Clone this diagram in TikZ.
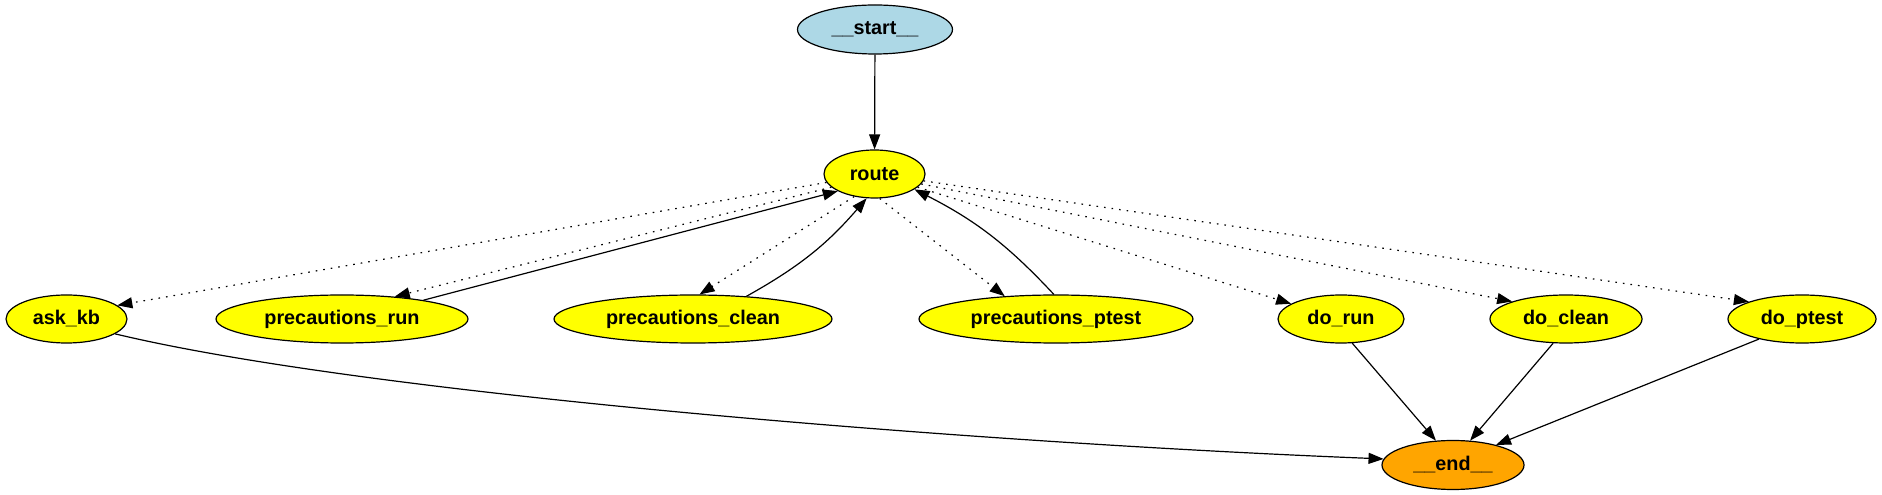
\documentclass[tikz,border=0pt]{standalone}
\usepackage{fontspec}
\setmainfont{Liberation Sans}
\usetikzlibrary{shapes.geometric,arrows.meta}
\definecolor{lblue}{HTML}{ADD8E6}
\definecolor{gvyellow}{HTML}{FFFF00}
\definecolor{gvorange}{HTML}{FFA500}
\begin{document}
\begin{tikzpicture}[x=1pt,y=1pt,
  gnode/.style={ellipse,draw=black,line width=1.2pt,inner sep=0pt,minimum height=48pt,
    font=\fontsize{19.8}{23}\selectfont\bfseries,text=black},
  ynode/.style={gnode,fill=gvyellow},
  edge/.style={line width=1.2pt,-{Triangle[length=15pt,width=11pt]}},
  dotedge/.style={edge,dash pattern=on 1.6pt off 6pt}]
\fill[white] (0,0) rectangle (1882,495);
\useasboundingbox (0,0) rectangle (1882,495);
\node[gnode,fill=lblue,minimum width=155pt,minimum height=49pt] (start) at (875,465.5) {\_\_start\_\_};
\node[ynode,minimum width=101pt] (route) at (874.5,321) {route};
\node[ynode,minimum width=121pt] (askkb) at (66.5,176) {ask\_kb};
\node[ynode,minimum width=252pt] (prun) at (342,176) {precautions\_run};
\node[ynode,minimum width=278pt] (pclean) at (693,176) {precautions\_clean};
\node[ynode,minimum width=274pt] (pptest) at (1056,176) {precautions\_ptest};
\node[ynode,minimum width=126pt] (dorun) at (1341,176) {do\_run};
\node[ynode,minimum width=152pt] (doclean) at (1566,176) {do\_clean};
\node[ynode,minimum width=148pt] (doptest) at (1802,176) {do\_ptest};
\node[gnode,fill=gvorange,minimum width=142pt,minimum height=49pt] (end) at (1453,30) {\_\_end\_\_};

\draw[edge] (start) -- (route);
\draw[dotedge] (route.190) -- (askkb.15);
\draw[dotedge] (route.197) -- (prun.23);
\draw[edge] (prun.13) -- (route.205);
\draw[dotedge] (route.228) -- (pclean.75);
\draw[edge] (pclean.23) to[bend right=10] (route.252);
\draw[dotedge] (route.-78) -- (pptest.156);
\draw[edge] (pptest.95) to[bend right=10] (route.-21);
\draw[dotedge] (route.-17) -- (dorun.163);
\draw[dotedge] (route.-12) -- (doclean.162);
\draw[dotedge] (route.-8) -- (doptest.162);
\draw[edge] (askkb.-17) .. controls (370,100) and (982,52) .. (end.175);
\draw[edge] (dorun.-65) -- (end.125);
\draw[edge] (doclean.-118) -- (end.55);
\draw[edge] (doptest.-155) -- (end.25);
\end{tikzpicture}
\end{document}
